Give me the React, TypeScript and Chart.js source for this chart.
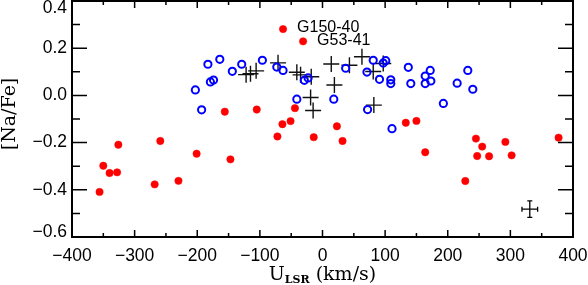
import React, { useEffect, useRef } from "react";
import { Chart, registerables } from "chart.js";
Chart.register(...registerables);

const xTicks = [-400, -300, -200, -100, 0, 100, 200, 300, 400];
const xMinorTicks = [-350, -250, -150, -50, 50, 150, 250, 350];
const yTicks = [-0.6, -0.4, -0.2, 0.0, 0.2, 0.4];
const yMinorTicks = [-0.5, -0.3, -0.1, 0.1, 0.3];

// filled red circles
const redU = [-356, -350, -340, -328, -326, -268, -259, -230, -201, -156, -147, -105, -72, -64, -51, -44, -14, 23, 32, 133, 150, 164, 228, 245, 247, 255, 266, 292, 302, 377];
const redNa = [-0.409, -0.298, -0.329, -0.326, -0.209, -0.377, -0.193, -0.362, -0.247, -0.069, -0.271, -0.060, -0.174, -0.122, -0.109, -0.054, -0.177, -0.131, -0.193, -0.116, -0.108, -0.241, -0.363, -0.183, -0.257, -0.217, -0.258, -0.197, -0.254, -0.179];

// open blue circles
const blueU = [-183, -164, -144, -129, -96, -73, -63, -203, -179, -174, -193, -41, -29, -23, 37, 71, 81, 101, 97, 91, 109, 109, 137, 141, 164, 172, 173, 164, 215, 232, 240, 193, 18, 72, 111];
const blueNa = [0.132, 0.153, 0.102, 0.132, 0.149, 0.120, 0.106, 0.023, 0.057, 0.065, -0.061, -0.016, 0.064, 0.074, 0.115, 0.099, 0.149, 0.147, 0.137, 0.068, 0.066, 0.050, 0.119, 0.050, 0.082, 0.106, 0.061, 0.050, 0.052, 0.106, 0.026, -0.034, -0.016, -0.060, -0.141];

// black plus signs
const crossU = [-122, -115, -106, -71, -41, -35, -18, -19, -15, 14, 19, 43, 63, 81, 97, 82];
const crossNa = [0.088, 0.092, 0.104, 0.138, 0.098, 0.087, 0.079, -0.009, -0.064, 0.133, 0.044, 0.128, 0.164, 0.101, 0.135, -0.041];

// labelled stars
const starNames = ["G150-40", "G53-41"];
const starU = [-63, -31];
const starNa = [0.281, 0.229];

// typical error bar
const errU = [331];
const errNa = [-0.482];
const errDU = [12.5];
const errDNa = [0.035];

const toPts = (xs: number[], ys: number[]) => xs.map((x, i) => ({ x, y: ys[i] }));
const fmtY = (v: number) => {
  const s = Math.abs(v).toFixed(1);
  return v < -1e-9 ? "\u2212" + s : s;
};
const fmtX = (v: number) => (v < 0 ? "\u2212" + Math.abs(v) : String(v));

const overlay = {
  id: "overlay",
  afterDatasetsDraw(chart: any) {
    const ctx = chart.ctx;
    const xs = chart.scales.x;
    const ys = chart.scales.y;
    const { left, right, top, bottom } = chart.chartArea;
    ctx.save();
    ctx.strokeStyle = "#000";
    ctx.lineCap = "butt";
    // ticks
    ctx.lineWidth = 1.5;
    ctx.beginPath();
    const xt = (vals: number[], len: number) => {
      vals.forEach((v) => {
        const p = xs.getPixelForValue(v);
        ctx.moveTo(p, bottom);
        ctx.lineTo(p, bottom - len);
        ctx.moveTo(p, top);
        ctx.lineTo(p, top + len);
      });
    };
    const yt = (vals: number[], len: number) => {
      vals.forEach((v) => {
        const p = ys.getPixelForValue(v);
        ctx.moveTo(left, p);
        ctx.lineTo(left + len, p);
        ctx.moveTo(right, p);
        ctx.lineTo(right - len, p);
      });
    };
    xt(xTicks, 7);
    xt(xMinorTicks, 4);
    yt(yTicks, 15);
    yt(yMinorTicks, 8);
    ctx.stroke();
    // frame
    ctx.lineWidth = 2;
    ctx.strokeRect(left, top, right - left, bottom - top);

    // tick labels
    ctx.fillStyle = "#000";
    ctx.font = "17.5px 'Liberation Sans', Arial, sans-serif";
    ctx.textAlign = "right";
    ctx.textBaseline = "middle";
    yTicks.forEach((v) => {
      const p = Math.max(ys.getPixelForValue(v), 8);
      ctx.fillText(fmtY(v), left - 5, Math.min(p, 232));
    });
    ctx.textAlign = "center";
    xTicks.forEach((v) => {
      ctx.fillText(fmtX(v), xs.getPixelForValue(v), bottom + 19);
    });

    // labelled stars
    ctx.font = "16px 'Liberation Sans', Arial, sans-serif";
    ctx.textAlign = "left";
    starNames.forEach((n, i) => {
      const px = xs.getPixelForValue(starU[i]);
      const py = ys.getPixelForValue(starNa[i]);
      ctx.fillText(n, px + 14, py - 1);
    });

    // error bar
    ctx.lineWidth = 1.3;
    ctx.beginPath();
    errU.forEach((u, i) => {
      const cx = xs.getPixelForValue(u);
      const cy = ys.getPixelForValue(errNa[i]);
      const x0 = xs.getPixelForValue(u - errDU[i]);
      const x1 = xs.getPixelForValue(u + errDU[i]);
      const y0 = ys.getPixelForValue(errNa[i] + errDNa[i]);
      const y1 = ys.getPixelForValue(errNa[i] - errDNa[i]);
      const c = 2.5;
      ctx.moveTo(x0, cy); ctx.lineTo(x1, cy);
      ctx.moveTo(cx, y0); ctx.lineTo(cx, y1);
      ctx.moveTo(x0, cy - c); ctx.lineTo(x0, cy + c);
      ctx.moveTo(x1, cy - c); ctx.lineTo(x1, cy + c);
      ctx.moveTo(cx - c, y0); ctx.lineTo(cx + c, y0);
      ctx.moveTo(cx - c, y1); ctx.lineTo(cx + c, y1);
    });
    ctx.stroke();

    // x title: U_LSR (km/s)
    const big = "19px 'DejaVu Serif', serif";
    const small = "bold 11px 'DejaVu Serif', serif";
    ctx.textBaseline = "alphabetic";
    ctx.font = big;
    const wU = ctx.measureText("U").width;
    const wRest = ctx.measureText(" (km/s)").width;
    ctx.font = small;
    const wSub = ctx.measureText("LSR").width;
    const total = wU + wSub + wRest;
    let x = (left + right) / 2 - total / 2;
    const base = 280;
    ctx.font = big;
    ctx.fillText("U", x, base);
    x += wU;
    ctx.font = small;
    ctx.fillText("LSR", x, base + 3);
    x += wSub;
    ctx.font = big;
    ctx.fillText(" (km/s)", x, base);

    // y title
    ctx.save();
    ctx.translate(15, 114);
    ctx.rotate(-Math.PI / 2);
    ctx.textAlign = "center";
    ctx.textBaseline = "alphabetic";
    ctx.font = big;
    ctx.fillText("[Na/Fe]", 0, 0);
    ctx.restore();

    ctx.restore();
  },
};

export default function App() {
  const ref = useRef<HTMLCanvasElement | null>(null);
  useEffect(() => {
    document.body.style.margin = "0";
    const canvas = ref.current!;
    const chart = new Chart(canvas, {
      type: "scatter",
      data: {
        datasets: [
          {
            label: "red",
            data: toPts(redU, redNa),
            pointStyle: "circle",
            pointRadius: 3.7,
            backgroundColor: "#ff0000",
            borderColor: "#ff0000",
            borderWidth: 0.5,
          },
          {
            label: "stars",
            data: toPts(starU, starNa),
            pointStyle: "circle",
            pointRadius: 3.7,
            backgroundColor: "#ff0000",
            borderColor: "#ff0000",
            borderWidth: 0.5,
          },
          {
            label: "blue",
            data: toPts(blueU, blueNa),
            pointStyle: "circle",
            pointRadius: 3.6,
            backgroundColor: "rgba(0,0,0,0)",
            borderColor: "#0000ff",
            borderWidth: 2,
          },
          {
            label: "cross",
            data: toPts(crossU, crossNa),
            pointStyle: "cross",
            pointRadius: 8,
            borderColor: "#111",
            borderWidth: 1.4,
          },
        ],
      },
      options: {
        animation: false,
        responsive: false,
        devicePixelRatio: 1,
        layout: { autoPadding: false, padding: { top: 1, right: 15, left: 72, bottom: 48 } },
        plugins: { legend: { display: false }, tooltip: { enabled: false } },
        scales: {
          x: { type: "linear", display: false, min: -400, max: 400 },
          y: { type: "linear", display: false, min: -0.6, max: 0.4 },
        },
      },
      plugins: [overlay],
    });
    return () => chart.destroy();
  }, []);
  return (
    <div style={{ width: 588, height: 285 }}>
      <canvas ref={ref} width={588} height={285} style={{ display: "block" }} />
    </div>
  );
}
